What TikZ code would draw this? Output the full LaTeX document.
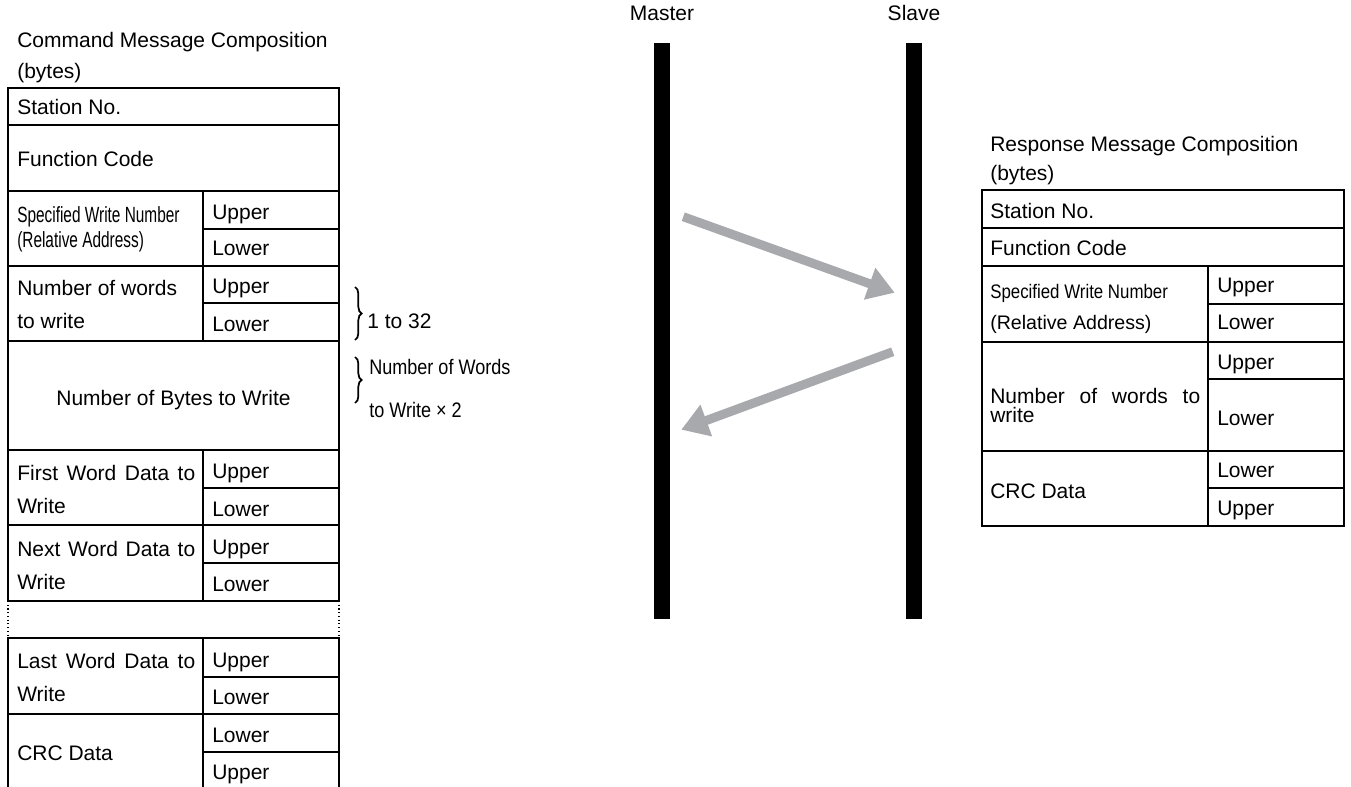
\documentclass[tikz,border=0pt]{standalone}
\usepackage{fontspec}
\setmainfont{Liberation Sans}
\newfontfamily\condfont[FakeStretch=0.7]{Liberation Sans}
\newfontfamily\semicondfont[FakeStretch=0.86]{Liberation Sans}
\usepackage{tikz}
\usetikzlibrary{arrows.meta, positioning, calc, decorations.pathreplacing}
\definecolor{msggray}{HTML}{A7A9AC}

\begin{document}
\begin{tikzpicture}[
    x=0.75pt, y=-0.75pt,
    % one pixel of the layout = one unit
    txt/.style={font=\fontsize{15.75}{24.75}\selectfont},
    cell/.style={line width=1.3pt, line cap=rect},
    lbl/.style={txt, anchor=base west, inner sep=0pt},
    multi/.style={txt, anchor=west, inner sep=0pt, align=left},
    bar/.style={fill=black, inner sep=0pt, minimum width=12pt, minimum height=432pt},
    msg/.style={line width=6.75pt, color=msggray, -{Triangle[length=20pt, width=24pt]}},
    curly/.style={decorate, decoration={brace, amplitude=5pt}, line width=1.3pt}
]
\useasboundingbox (0,0) rectangle (1351,787);

% =========================================================
% COMMAND MESSAGE (Left Side)
% =========================================================
\draw[cell] (8,88) rectangle (339,601);
\draw[cell] (8,638) rectangle (339,792);
\draw[dotted, line width=0.8pt] (8,601) -- (8,638) (339,601) -- (339,638);
\foreach \y in {125,191,266,341,450,525,714}
    \draw[cell] (8,\y) -- (339,\y);
\foreach \y in {229,303,488,563,677,752}
    \draw[cell] (203,\y) -- (339,\y);
\draw[cell] (203,191) -- (203,341) (203,450) -- (203,601) (203,638) -- (203,792);

\node[lbl] (cmd title) at (17,48) {Command Message Composition};
\node[lbl] (cmd bytes) at (17,79) {(bytes)};
\node[lbl] (cmd station) at (17,115) {Station No.};
\node[lbl] (cmd func) at (17,167) {Function Code};
\node[multi, font=\condfont\fontsize{16.5}{18.75}\selectfont] (cmd addr) at (17,229) {Specified Write Number\\(Relative Address)};
\node[multi] (cmd words) at (17,304) {Number of words\\to write};
\node[lbl, anchor=base] (cmd nbytes) at (173.5,405) {Number of Bytes to Write};
\node[multi] (cmd first) at (17,489) {\makebox[133.5pt][s]{First Word Data to}\\Write};
\node[multi] (cmd next) at (17,565) {\makebox[133.5pt][s]{Next Word Data to}\\Write};
\node[multi] (cmd last) at (17,677) {\makebox[133.5pt][s]{Last Word Data to}\\Write};
\node[lbl] (cmd crc) at (17,760) {CRC Data};

% byte halves
\foreach \y/\t [count=\i] in {220/Upper,256/Lower,294/Upper,332/Lower,478/Upper,516/Lower,554/Upper,591/Lower,667/Upper,704/Lower,742/Lower,779/Upper}
    \node[lbl] (cmd byte\i) at (212,\y) {\t};

% braces
\draw[curly] (355,287) -- (355,340);
\node[lbl] (range) at (367,329) {1 to 32};
\draw[curly] (355,357) -- (355,403);
\node[lbl, font=\semicondfont\fontsize{15.75}{24.75}\selectfont] (count a) at (369,375) {Number of Words};
\node[lbl, font=\semicondfont\fontsize{15.75}{24.75}\selectfont] (count b) at (369,417) {to Write × 2};

% =========================================================
% MASTER / SLAVE
% =========================================================
\node[bar] (master) at (662,331) {};
\node[bar] (slave) at (914,331) {};
\node[txt, above=16.5pt of master, inner sep=0pt] (master label) {Master};
\node[txt, above=16.5pt of slave, inner sep=0pt] (slave label) {Slave};

\coordinate (cmd out) at ($(master.north east)+(13,174)$);
\coordinate (cmd in) at ($(slave.north west)+(-11,250)$);
\coordinate (rsp out) at ($(slave.north west)+(-13,309)$);
\coordinate (rsp in) at ($(master.north east)+(11,387)$);
\draw[msg] (cmd out) -- (cmd in);
\draw[msg] (rsp out) -- (rsp in);

% =========================================================
% RESPONSE MESSAGE (Right Side)
% =========================================================
\draw[cell] (982,190) rectangle (1344,526);
\foreach \y in {228,266,342,451}
    \draw[cell] (982,\y) -- (1344,\y);
\foreach \y in {304,379,488}
    \draw[cell] (1208,\y) -- (1344,\y);
\draw[cell] (1208,266) -- (1208,526);

\node[lbl] (rsp title) at (990,152) {Response Message Composition};
\node[lbl] (rsp bytes) at (990,181) {(bytes)};
\node[lbl] (rsp station) at (990,219) {Station No.};
\node[lbl] (rsp func) at (990,256) {Function Code};
\node[multi, font=\fontsize{14.7}{23.25}\selectfont] (rsp addr) at (990,309) {{\semicondfont Specified Write Number}\\(Relative Address)};
\node[multi, font=\fontsize{15.75}{14.25}\selectfont] (rsp words) at (990,405) {\makebox[157.5pt][s]{Number of words to}\\write};
\node[lbl] (rsp crc) at (990,498) {CRC Data};
\foreach \y/\t [count=\i] in {293/Upper,330/Lower,370/Upper,425/Lower,477/Lower,515/Upper}
    \node[lbl] (rsp byte\i) at (1217,\y) {\t};

\end{tikzpicture}
\end{document}
